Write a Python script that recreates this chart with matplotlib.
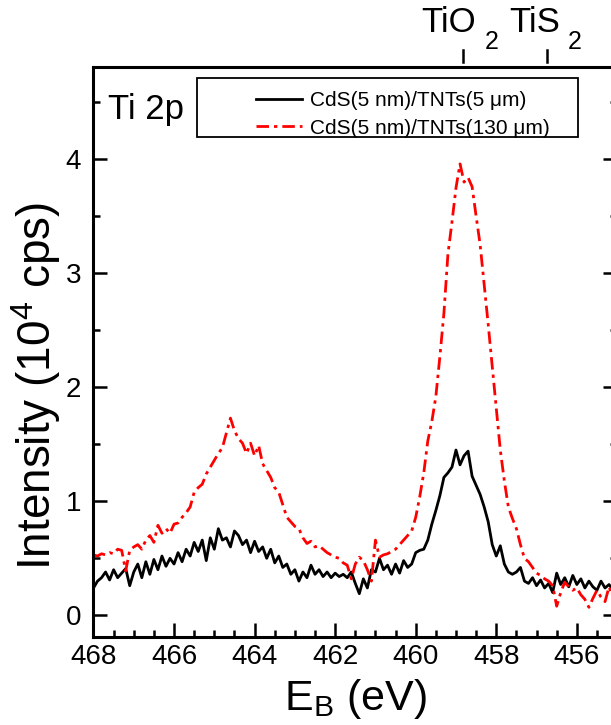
import numpy as np
import matplotlib

matplotlib.use("Agg")
import matplotlib.pyplot as plt
from matplotlib.patches import Rectangle
from matplotlib.ticker import MultipleLocator

# binding energy grid (eV), 0.1 eV steps from 468.0 down to 455.1
energy = np.round(np.arange(468.0, 455.05, -0.1), 1)

# CdS(5 nm)/TNTs(5 um), intensity in 10^4 cps
thin = [
    0.24, 0.30, 0.33, 0.38, 0.31, 0.40, 0.33, 0.37, 0.41, 0.26,
    0.38, 0.45, 0.33, 0.47, 0.36, 0.49, 0.40, 0.52, 0.43, 0.50,
    0.45, 0.55, 0.47, 0.58, 0.52, 0.64, 0.56, 0.66, 0.48, 0.68,
    0.58, 0.76, 0.66, 0.68, 0.60, 0.74, 0.70, 0.62, 0.66, 0.55,
    0.65, 0.56, 0.60, 0.50, 0.58, 0.46, 0.52, 0.42, 0.45, 0.36,
    0.40, 0.30, 0.38, 0.33, 0.44, 0.36, 0.40, 0.34, 0.38, 0.33,
    0.37, 0.34, 0.36, 0.33, 0.38, 0.28, 0.19, 0.32, 0.24, 0.40,
    0.38, 0.50, 0.40, 0.44, 0.36, 0.45, 0.37, 0.48, 0.42, 0.45,
    0.55, 0.57, 0.58, 0.66, 0.80, 0.92, 1.05, 1.21, 1.25, 1.30,
    1.45, 1.32, 1.40, 1.44, 1.22, 1.14, 1.06, 0.95, 0.82, 0.62,
    0.52, 0.61, 0.45, 0.38, 0.36, 0.38, 0.42, 0.30, 0.28, 0.33,
    0.26, 0.31, 0.24, 0.28, 0.20, 0.37, 0.27, 0.33, 0.25, 0.35,
    0.27, 0.32, 0.24, 0.30, 0.25, 0.22, 0.30, 0.24, 0.27, 0.22,
]

# CdS(5 nm)/TNTs(130 um), intensity in 10^4 cps
thick = [
    0.53, 0.52, 0.54, 0.53, 0.55, 0.54, 0.58, 0.57, 0.39, 0.57,
    0.60, 0.62, 0.58, 0.66, 0.70, 0.64, 0.79, 0.72, 0.76, 0.72,
    0.80, 0.81, 0.86, 0.90, 0.95, 1.08, 1.12, 1.15, 1.24, 1.30,
    1.36, 1.42, 1.47, 1.60, 1.73, 1.62, 1.55, 1.51, 1.42, 1.51,
    1.40, 1.49, 1.33, 1.27, 1.21, 1.12, 1.08, 0.97, 0.86, 0.82,
    0.78, 0.76, 0.68, 0.63, 0.65, 0.60, 0.61, 0.58, 0.55, 0.53,
    0.51, 0.50, 0.46, 0.44, 0.32, 0.45, 0.51, 0.48, 0.40, 0.30,
    0.66, 0.51, 0.53, 0.54, 0.56, 0.58, 0.62, 0.66, 0.70, 0.74,
    0.86, 1.04, 1.25, 1.53, 1.70, 1.92, 2.27, 2.65, 3.17, 3.45,
    3.75, 3.96, 3.80, 3.84, 3.76, 3.50, 3.25, 2.90, 2.55, 2.18,
    1.82, 1.45, 1.18, 0.95, 0.85, 0.76, 0.62, 0.50, 0.47, 0.42,
    0.37, 0.35, 0.32, 0.30, 0.26, 0.08, 0.20, 0.29, 0.25, 0.22,
    0.24, 0.18, 0.14, 0.07, 0.15, 0.22, 0.16, 0.12, 0.25, 0.15,
]

series_labels = ["CdS(5 nm)/TNTs(5 \u03bcm)", "CdS(5 nm)/TNTs(130 \u03bcm)"]
ref_names = ["TiO", "TiS"]
ref_positions = [458.83, 456.75]

plt.rcParams["font.family"] = ["Liberation Sans", "DejaVu Sans"]
plt.rcParams["mathtext.fontset"] = "custom"
plt.rcParams["mathtext.rm"] = "Liberation Sans"
plt.rcParams["mathtext.it"] = "Liberation Sans:italic"
plt.rcParams["mathtext.bf"] = "Liberation Sans:bold"

fig = plt.figure(figsize=(6.11, 7.25), dpi=100)
ax = fig.add_axes([0.153, 0.1214, 0.857, 0.7862])

ax.plot(energy, thin, color="black", lw=2.0, label=series_labels[0])
ax.plot(energy, thick, color="#ff0000", lw=2.0,
        linestyle=(0, (4.5, 1.8, 1.2, 1.8)), label=series_labels[1])

ax.set_xlim(468, 455)
ax.set_ylim(-0.19, 4.81)
ax.xaxis.set_major_locator(MultipleLocator(2))
ax.xaxis.set_minor_locator(MultipleLocator(0.5))
ax.yaxis.set_major_locator(MultipleLocator(1))
ax.yaxis.set_minor_locator(MultipleLocator(0.5))
ax.tick_params(which="both", direction="in", right=True, top=False, width=1.8)
ax.tick_params(which="major", length=10)
ax.tick_params(which="minor", length=5)
ax.tick_params(axis="x", labelsize=20, pad=5)
ax.tick_params(axis="y", labelsize=20, pad=9)
for sp in ax.spines.values():
    sp.set_linewidth(2.2)

ax.set_xlabel("E$_\\mathregular{B}$ (eV)", fontsize=31)
ax.set_ylabel("Intensity (10$^\\mathregular{4}$ cps)", fontsize=33)
ax.xaxis.set_label_coords(0.5, -0.07)
ax.yaxis.set_label_coords(-0.058, 0.44)

ax.text(0.028, 0.955, "Ti 2p", transform=ax.transAxes, fontsize=25,
        ha="left", va="top")

# legend: frame drawn as a separate box
ax.add_patch(Rectangle((0.198, 0.877), 0.727, 0.104, transform=ax.transAxes,
                       fill=False, edgecolor="black", lw=1.3, zorder=5))
ax.legend(loc="upper left", bbox_to_anchor=(0.295, 0.972), frameon=False,
          fontsize=15, handlelength=2.2, handletextpad=0.4,
          labelspacing=0.4, borderaxespad=0.0)

# reference peak markers above the frame
trans = ax.get_xaxis_transform()
for name, pos in zip(ref_names, ref_positions):
    ax.plot([pos, pos], [1.009, 1.03], color="black", lw=1.8,
            transform=trans, clip_on=False)
    ax.annotate(name, xy=(pos, 1.0), xycoords=trans, xytext=(9.5, 25),
                textcoords="offset points", fontsize=25,
                ha="right", va="baseline", annotation_clip=False)
    ax.annotate("2", xy=(pos, 1.0), xycoords=trans, xytext=(15.5, 13),
                textcoords="offset points", fontsize=18,
                ha="left", va="baseline", annotation_clip=False)

fig.savefig("out.png", dpi=100)
